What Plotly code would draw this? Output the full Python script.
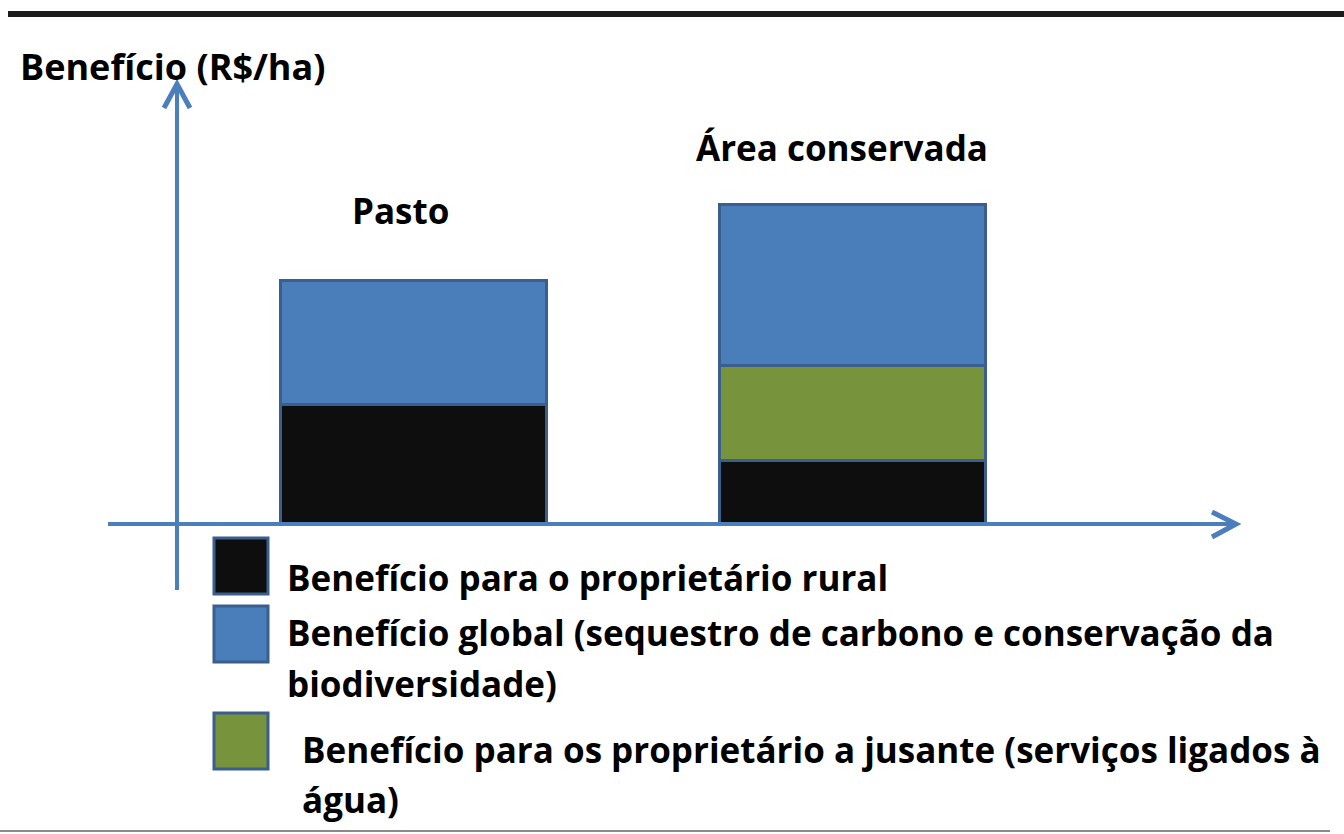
import plotly.graph_objects as go

# ---------------- data ----------------
categories = ["Pasto", "Área conservada"]
rural = [3.75, 2.0]            # Benefício para o proprietário rural
jusante = [None, 2.95]         # Benefício para os proprietário a jusante
global_ = [3.85, 5.05]         # Benefício global

series_names = [
    "Benefício para o proprietário rural",
    "Benefício global (sequestro de carbono e conservação da biodiversidade)",
    "Benefício para os proprietário a jusante (serviços ligados à água)",
]
legend_lines = [
    ["Benefício para o proprietário rural"],
    ["Benefício global (sequestro de carbono e conservação da", "biodiversidade)"],
    ["Benefício para os proprietário a jusante (serviços ligados à", "água)"],
]
y_title = "Benefício (R$/ha)"

# ---------------- styling / layout helpers ----------------
W, H = 1344, 834
C_BLACK = "#0e0e0e"
C_BLUE = "#4a7ebb"
C_GREEN = "#77933c"
C_EDGE = "#3a5f8e"
C_AXIS = "#4a7ebd"
FONT = "Open Sans"
FS = 35


def px(x, y):
    return x / W, 1 - y / H


X_UNIT, X0 = 439.0, 413.5     # pixels per category, pixel centre of first category
Y_UNIT, Y0 = 32.0, 524.0      # pixels per unit, pixel of baseline

fig = go.Figure()
fig.add_trace(go.Bar(x=categories, y=rural, name=series_names[0], width=0.605,
                     marker=dict(color=C_BLACK, line=dict(color=C_EDGE, width=3))))
fig.add_trace(go.Bar(x=categories, y=jusante, name=series_names[2], width=0.605,
                     marker=dict(color=C_GREEN, line=dict(color=C_EDGE, width=3))))
fig.add_trace(go.Bar(x=categories, y=global_, name=series_names[1], width=0.605,
                     marker=dict(color=C_BLUE, line=dict(color=C_EDGE, width=3))))

shapes = []
# top and bottom rules
x1, y1 = px(8, 14); x2, y2 = px(W, 14)
shapes.append(dict(type="line", xref="paper", yref="paper", x0=x1, y0=y1, x1=x2, y1=y2,
                   line=dict(color="#1c1c1c", width=6)))
x1, y1 = px(0, 831); x2, y2 = px(1330, 831)
shapes.append(dict(type="line", xref="paper", yref="paper", x0=x1, y0=y1, x1=x2, y1=y2,
                   line=dict(color="#8a8a8a", width=2)))
# axes
x1, y1 = px(108, 524); x2, y2 = px(1235, 524)
shapes.append(dict(type="line", xref="paper", yref="paper", x0=x1, y0=y1, x1=x2, y1=y2,
                   line=dict(color=C_AXIS, width=4)))
x1, y1 = px(177, 590); x2, y2 = px(177, 86)
shapes.append(dict(type="line", xref="paper", yref="paper", x0=x1, y0=y1, x1=x2, y1=y2,
                   line=dict(color=C_AXIS, width=4)))


def chevron(pts):
    s = ""
    for i, (a, b) in enumerate(pts):
        u, v = px(a, b)
        s += ("M" if i == 0 else "L") + f"{u:.5f},{v:.5f} "
    return s


shapes.append(dict(type="path", xref="paper", yref="paper",
                   path=chevron([(1212, 512), (1236, 524), (1212, 537)]),
                   line=dict(color=C_AXIS, width=5)))
shapes.append(dict(type="path", xref="paper", yref="paper",
                   path=chevron([(164, 108), (177, 84), (190, 108)]),
                   line=dict(color=C_AXIS, width=5)))

# legend swatches
swatch_colors = [C_BLACK, C_BLUE, C_GREEN]
swatch_tops = [538, 606, 713]
for c, t in zip(swatch_colors, swatch_tops):
    a, b = px(214, t); cc, d = px(268, t + 56)
    shapes.append(dict(type="rect", xref="paper", yref="paper", x0=a, y0=b, x1=cc, y1=d,
                       fillcolor=c, line=dict(color=C_EDGE, width=3)))

annotations = []
# y title
a, b = px(18, 67)
annotations.append(dict(xref="paper", yref="paper", x=a, y=b, xanchor="left", yanchor="middle",
                        text=f"<b>{y_title}</b>", showarrow=False,
                        font=dict(family=FONT, size=36, color="#000")))
# category labels above the bars
totals = [sum(v or 0 for v in vals) for vals in zip(rural, jusante, global_)]
label_shift = [(-13, 70), (-11, 57)]
for cat, tot, (dx, dy) in zip(categories, totals, label_shift):
    annotations.append(dict(x=cat, y=tot, xref="x", yref="y", xshift=dx, yshift=dy,
                            xanchor="center", yanchor="middle", text=f"<b>{cat}</b>",
                            showarrow=False, font=dict(family=FONT, size=FS, color="#000")))
# legend text
line_pos = [[(285, 577)], [(285, 632), (285, 683)], [(300, 749), (300, 799)]]
for lines, poss in zip(legend_lines, line_pos):
    for txt, (lx, ly) in zip(lines, poss):
        a, b = px(lx, ly)
        annotations.append(dict(xref="paper", yref="paper", x=a, y=b, xanchor="left",
                                yanchor="middle", text=f"<b>{txt}</b>", showarrow=False,
                                font=dict(family=FONT, size=FS, color="#000")))

fig.update_layout(
    width=W, height=H, margin=dict(l=0, r=0, t=0, b=0),
    barmode="stack", showlegend=False,
    paper_bgcolor="white", plot_bgcolor="white",
    xaxis=dict(visible=False, range=[-X0 / X_UNIT, (W - X0) / X_UNIT]),
    yaxis=dict(visible=False, range=[-(H - Y0) / Y_UNIT, Y0 / Y_UNIT]),
    shapes=shapes, annotations=annotations,
)

fig.write_html("out.html", config={"displayModeBar": False},
               post_script="document.body.style.margin='0';document.body.style.overflow='hidden';")
